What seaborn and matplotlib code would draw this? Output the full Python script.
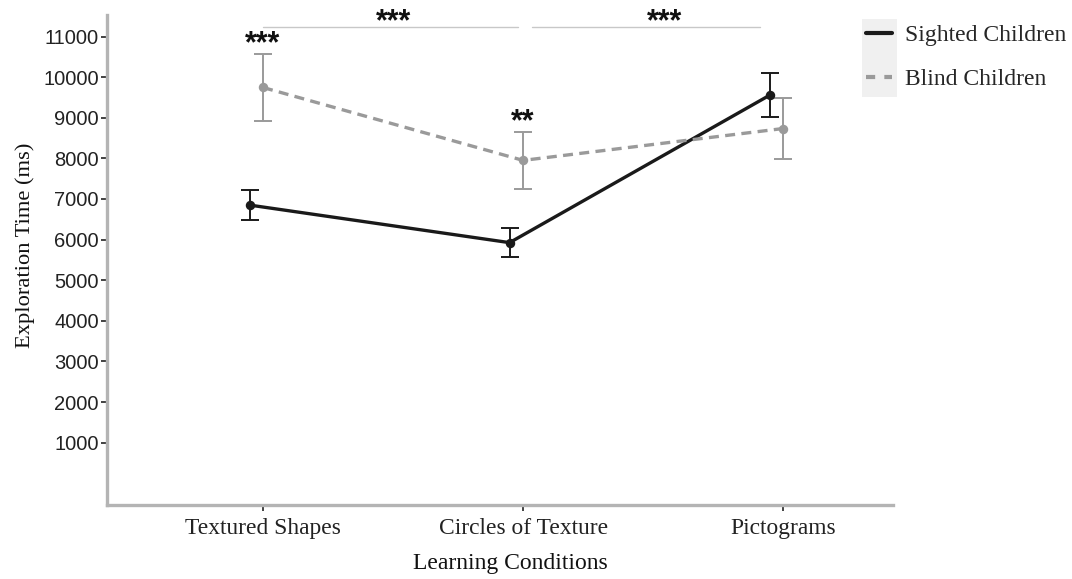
import numpy as np
import pandas as pd
import matplotlib
matplotlib.use("Agg")
import matplotlib.pyplot as plt
from matplotlib.lines import Line2D
from matplotlib.patches import Rectangle
import seaborn as sns

# Data (mean exploration time, error bar half-width)
conditions = ["Textured Shapes", "Circles of Texture", "Pictograms"]
groups = ["Sighted Children", "Blind Children"]
sighted_mean = [6850, 5925, 9555]
sighted_err = [375, 355, 535]
blind_mean = [9745, 7950, 8735]
blind_err = [820, 695, 750]
yticks = [1000, 2000, 3000, 4000, 5000, 6000, 7000, 8000, 9000, 10000, 11000]

# significance marks
point_stars = {"Textured Shapes": "***", "Circles of Texture": "**"}
bracket_stars = [("Textured Shapes", "Circles of Texture", "***"),
                 ("Circles of Texture", "Pictograms", "***")]

BLACK = "#1a1a1a"
GREY = "#9a9a9a"
SPINE = "#b4b4b4"
STAR_FONT = dict(fontsize=22, fontweight="bold", color="#111111",
                 family=["Liberation Sans", "DejaVu Sans"])

sns.set_theme(style="ticks")
plt.rcParams["font.family"] = ["Liberation Serif", "DejaVu Serif"]

df = pd.DataFrame({
    "condition": conditions * 2,
    "group": [groups[0]] * 3 + [groups[1]] * 3,
    "time": sighted_mean + blind_mean,
})

fig = plt.figure(figsize=(10.72, 5.79), dpi=100)
ax = fig.add_axes([0.0998, 0.1278, 0.7334, 0.8463])

sns.pointplot(data=df, x="condition", y="time", hue="group",
              order=conditions, hue_order=groups,
              palette={groups[0]: BLACK, groups[1]: GREY},
              markers=["o", "o"], linestyles=["-", "--"],
              dodge=0.052, errorbar=None, markersize=5, linewidth=2.4,
              ax=ax)
if ax.get_legend() is not None:
    ax.get_legend().remove()

line_s, line_b = ax.lines[0], ax.lines[1]
line_b.set_linestyle((0, (3.0, 1.9)))
line_s.set_zorder(3)
line_b.set_zorder(3)

xs = np.asarray(line_s.get_xdata(), dtype=float)
xb = np.asarray(line_b.get_xdata(), dtype=float)

ax.errorbar(xs, sighted_mean, yerr=sighted_err, fmt="none", ecolor=BLACK,
            elinewidth=1.4, capsize=6.2, capthick=1.4, zorder=2)
ax.errorbar(xb, blind_mean, yerr=blind_err, fmt="none", ecolor=GREY,
            elinewidth=1.4, capsize=6.2, capthick=1.4, zorder=2)

# axes styling
ax.set_ylim(-535, 11530)
ax.set_yticks(yticks)
ax.set_xticks(xb)
ax.set_xticklabels(conditions)
ax.set_xlim(xb[0] - 0.6, xb[0] + 2.423)
sns.despine(ax=ax)
for side in ["left", "bottom"]:
    ax.spines[side].set_color(SPINE)
    ax.spines[side].set_linewidth(2.4)
ax.tick_params(axis="both", colors="#222222", length=4, width=1.2, pad=2)
ax.tick_params(axis="x", labelsize=16.9, pad=5)
ax.tick_params(axis="y", labelsize=14.5)
for lab in ax.get_yticklabels():
    lab.set_fontfamily(["Liberation Sans", "DejaVu Sans"])
ax.set_xlabel("Learning Conditions", fontsize=17, color="#111111")
ax.set_ylabel("Exploration Time (ms)", fontsize=16.2, color="#111111")
ax.xaxis.set_label_coords(0.513, -0.097)
ax.yaxis.set_label_coords(-0.091, 0.53)

# stars above single points
for i, cond in enumerate(conditions):
    if cond in point_stars:
        ax.text(xb[i], blind_mean[i] + blind_err[i] + 40, point_stars[cond],
                ha="center", va="baseline", **STAR_FONT)

# brackets across conditions
br_y = 11240
nudge = [0.0, 0.045]
for k, (a, b, s) in enumerate(bracket_stars):
    ia, ib = conditions.index(a), conditions.index(b)
    x0 = xb[ia] + (0.0 if ia == 0 else 0.035)
    x1 = xb[ib] - (0.02 if ib == 1 else 0.09)
    ax.plot([x0, x1], [br_y, br_y], color="#c8c8c8", lw=1.0, clip_on=False)
    ax.text((xb[ia] + xb[ib]) / 2 + nudge[k], br_y - 95, s, ha="center",
            va="baseline", clip_on=False, **STAR_FONT)

# legend with grey key background
fig.patches.append(Rectangle((0.804, 0.8325), 0.0327, 0.1347,
                             transform=fig.transFigure, facecolor="#f0f0f0",
                             edgecolor="none", zorder=0))
handles = [Line2D([], [], color=BLACK, lw=3.0),
           Line2D([], [], color=GREY, lw=3.0, ls=(0, (2.2, 2.2)))]
fig.legend(handles, groups, loc="upper left",
           bbox_to_anchor=(0.8075, 0.958), bbox_transform=fig.transFigure,
           frameon=False, fontsize=17, handlelength=1.1,
           handletextpad=0.55, labelspacing=0.95, borderpad=0,
           borderaxespad=0)

fig.savefig("out.png", dpi=100)
